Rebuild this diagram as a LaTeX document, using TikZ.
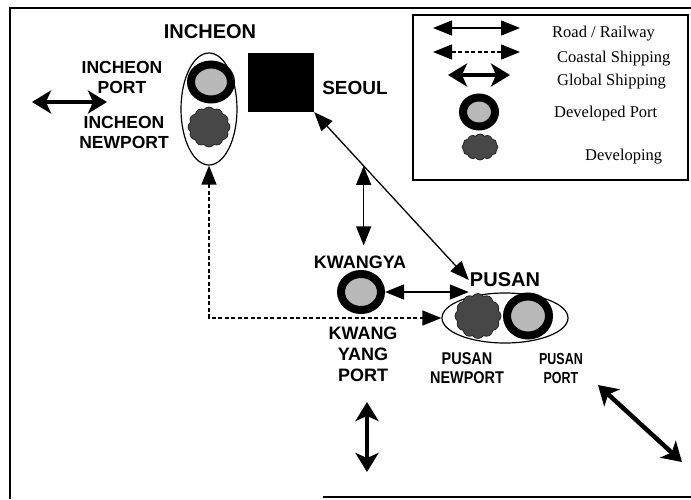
\documentclass[tikz,border=0pt]{standalone}
\usepackage{fontspec}
\setmainfont{Liberation Serif}
\newfontfamily\mapfont{Liberation Sans}
\newfontfamily\mapnarrow{Liberation Sans}[FakeStretch=0.85]
\newfontfamily\mapnarrower{Liberation Sans}[FakeStretch=0.78]
\usepackage{tikz}
\usetikzlibrary{arrows.meta,calc,positioning,shapes.geometric,shapes.symbols}
\tikzset{
  road/.style      = {{Triangle[length=19pt,width=15pt]}-{Triangle[length=19pt,width=15pt]},
                      line width=1.3pt},
  coastal/.style   = {road, dash pattern=on 4pt off 2.5pt},
  global/.style    = {{Stealth[length=19pt,width=23pt,inset=5pt]}-{Stealth[length=19pt,width=23pt,inset=5pt]},
                      line width=4.5pt},
  developed/.style = {ellipse, draw=black, fill=gray!55, line width=8pt, inner sep=0pt},
  developing/.style= {cloud, cloud puffs=12, cloud puff arc=110, cloud ignores aspect,
                      fill=black!72, draw=black!85, line width=0.8pt, inner sep=0pt},
  frame/.style     = {line width=1.2pt},
}

\begin{document}
\begin{tikzpicture}[
    x=1pt, y=-1pt,
    cityname/.style={font=\mapfont\bfseries\fontsize{19}{21}\selectfont, inner sep=1pt},
    portname/.style={font=\mapfont\bfseries\fontsize{17.5}{20}\selectfont, align=center, inner sep=1pt},
    legtext/.style={font=\fontsize{16.5}{18}\selectfont, anchor=base west, inner sep=0pt},
  ]
  \useasboundingbox (0,0) rectangle (691,499);

  % ---- outer frame (open on the right) -----------------------------------
  \draw[frame] (691,8) -- (10,8) -- (10,499);
  \draw[frame] (323,497) -- (691,497);

  % ---- Incheon: ellipse with the two ports -------------------------------
  \node[ellipse, draw, line width=1.2pt, minimum width=56pt, minimum height=112pt,
        inner sep=0pt] (incheon) at (209,109) {};
  \node[developed, minimum width=40pt, minimum height=35pt] (inport) at (211,82) {};
  \node[developing, minimum width=42pt, minimum height=40pt] (innew) at (209,127) {};
  \node[cityname, font=\mapfont\bfseries\fontsize{20}{22}\selectfont] (inlbl) at (210,31.5) {INCHEON};
  \node[portname] (inportlbl) at (122,77) {INCHEON\\PORT};
  \node[portname] (innewlbl) at (124,132) {INCHEON\\NEWPORT};

  % ---- Seoul --------------------------------------------------------------
  \node[fill=black, minimum width=66pt, minimum height=59pt, inner sep=0pt] (seoul) at (281,82.5) {};
  \node[cityname] (seoullbl) at (355,88) {SEOUL};

  % ---- Kwangyang ----------------------------------------------------------
  \node[developed, minimum width=40pt, minimum height=36pt] (kwang) at (361,292) {};
  \node[cityname, font=\mapfont\bfseries\fontsize{18}{20}\selectfont] (kwlbl) at (360,262) {KWANGYA};
  \node[portname, font=\mapfont\bfseries\fontsize{18}{21}\selectfont] (kwportlbl) at (363,354) {KWANG\\YANG\\PORT};

  % ---- Pusan: ellipse with the two ports ---------------------------------
  \node[ellipse, draw, line width=1.2pt, minimum width=126pt, minimum height=50pt,
        inner sep=0pt] (pusan) at (505,318) {};
  \node[developing, minimum width=46pt, minimum height=45pt] (pusnew) at (478,316) {};
  \node[developed, minimum width=42pt, minimum height=39pt] (pusport) at (528,316) {};
  \node[cityname, font=\mapfont\bfseries\fontsize{20}{22}\selectfont] (pusanlbl) at (505,280) {PUSAN};
  \node[portname, font=\mapnarrow\bfseries\fontsize{17}{19}\selectfont] (pusnewlbl) at (467,368) {PUSAN\\NEWPORT};
  \node[portname, font=\mapnarrower\bfseries\fontsize{16}{19}\selectfont] (pusportlbl) at (561,368) {PUSAN\\PORT};

  % ---- road / railway links ----------------------------------------------
  \draw[road] (seoul.south east) -- (pusanlbl.west);
  \coordinate (rj) at ($(seoul.south east)!0.32!(pusanlbl.west)$);
  \draw[road, shorten >=9pt] (rj) -- (rj |- kwlbl.north);
  \draw[road] (kwang.east) -- (kwang.east -| pusanlbl.west);

  % ---- coastal shipping --------------------------------------------------
  \draw[coastal] (incheon.south) |- (pusan.west);

  % ---- global shipping (free ends) ---------------------------------------
  \coordinate (gi1) at (32,102);   \coordinate (gi2) at (107,102);
  \coordinate (gk1) at (367,402);  \coordinate (gk2) at (367,472);
  \coordinate (gp1) at (598,385);  \coordinate (gp2) at (682,462);
  \draw[global] (gi1) -- (gi2);
  \draw[global] (gk1) -- (gk2);
  \draw[global] (gp1) -- (gp2);

  % ---- legend -------------------------------------------------------------
  \draw[frame] (413,15) rectangle (688,180);
  \coordinate (lr1) at (433,28);  \coordinate (lr2) at (520,28);
  \coordinate (lc1) at (433,52);  \coordinate (lc2) at (520,52);
  \coordinate (lg1) at (448,75);  \coordinate (lg2) at (510,75);
  \draw[road] (lr1) -- (lr2);
  \draw[coastal] (lc1) -- (lc2);
  \draw[global, line width=3.8pt] (lg1) -- (lg2);
  \node[developed, minimum width=32pt, minimum height=29pt] (legdev) at (479,112) {};
  \node[developing, minimum width=36pt, minimum height=26pt] (legdvg) at (480,147) {};
  \node[legtext] (lt1) at (552,37)  {Road / Railway};
  \node[legtext] (lt2) at (557,62)  {Coastal Shipping};
  \node[legtext] (lt3) at (557,85)  {Global Shipping};
  \node[legtext] (lt4) at (554,117) {Developed Port};
  \node[legtext] (lt5) at (585,160) {Developing};
\end{tikzpicture}
\end{document}
